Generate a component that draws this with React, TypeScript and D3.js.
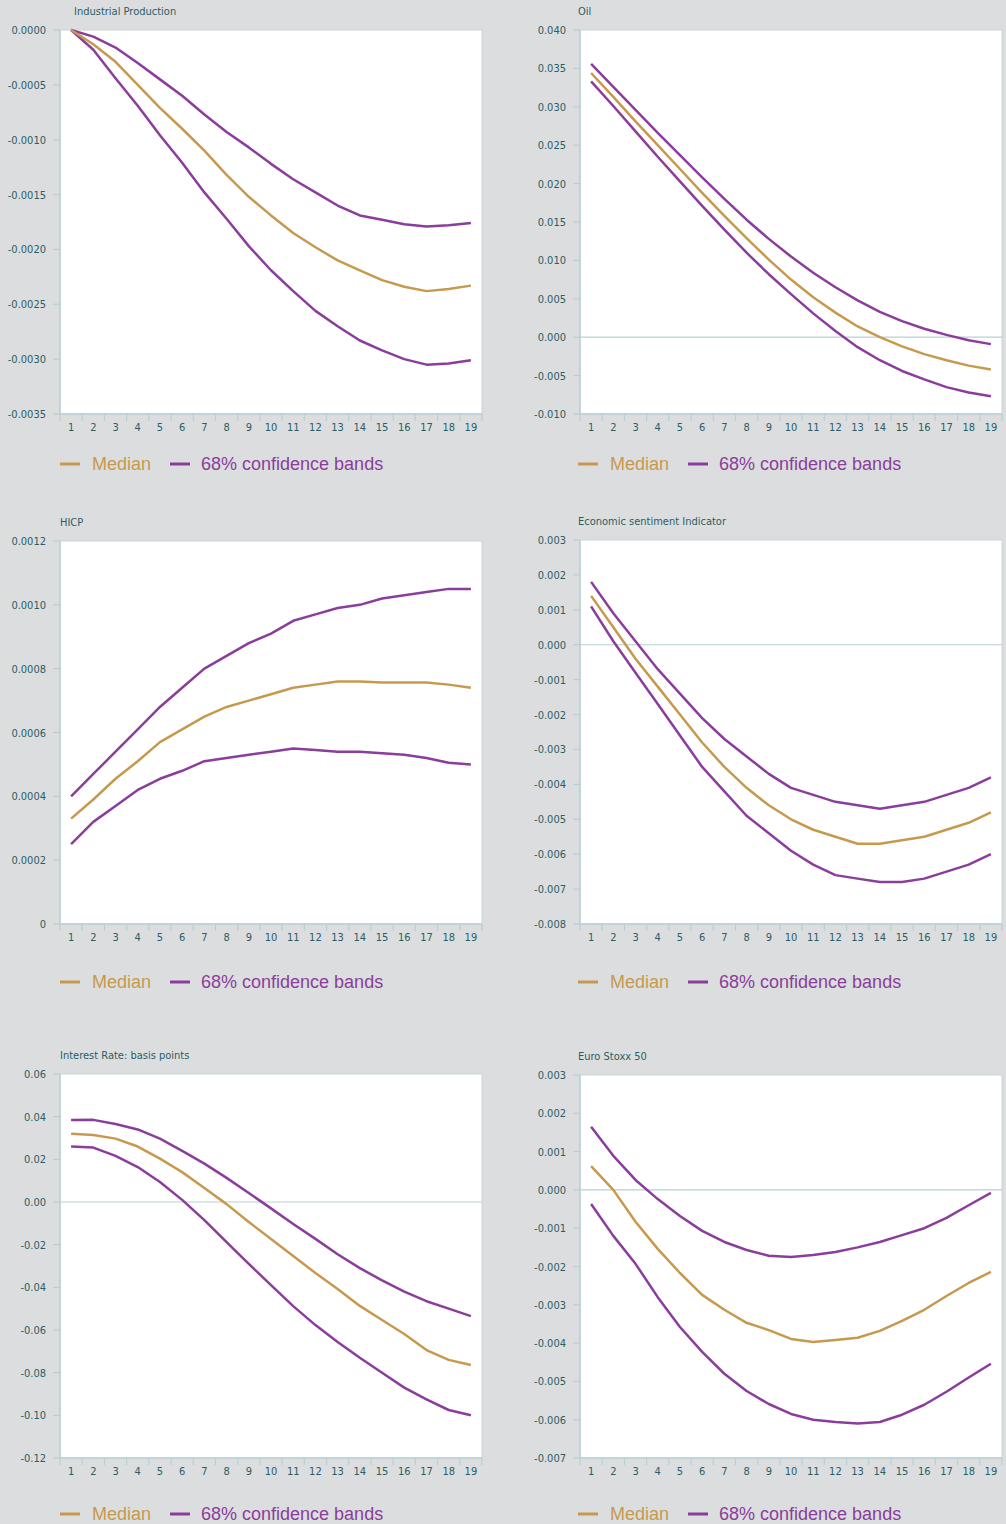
import React from 'react';
import * as d3 from 'd3';

// horizon 1..19
const periods = d3.range(1, 20);

// Industrial Production
const ipMedian = [0, -0.00013, -0.00029, -0.0005, -0.00071, -0.0009, -0.0011, -0.00132, -0.00152, -0.00169, -0.00185, -0.00198, -0.0021, -0.00219, -0.00228, -0.00234, -0.00238, -0.00236, -0.00233];
const ipUpper = [0, -0.00006, -0.00016, -0.0003, -0.00045, -0.0006, -0.00077, -0.00093, -0.00107, -0.00122, -0.00136, -0.00148, -0.0016, -0.00169, -0.00173, -0.00177, -0.00179, -0.00178, -0.00176];
const ipLower = [0, -0.00018, -0.00044, -0.00069, -0.00096, -0.00121, -0.00148, -0.00172, -0.00197, -0.00219, -0.00238, -0.00256, -0.0027, -0.00283, -0.00292, -0.003, -0.00305, -0.00304, -0.00301];

// Oil
const oilMedian = [0.0344, 0.0313, 0.0281, 0.025, 0.0219, 0.0188, 0.0158, 0.0129, 0.0101, 0.0075, 0.0052, 0.0032, 0.0014, 0.0, -0.0012, -0.0022, -0.003, -0.0037, -0.0042];
const oilUpper = [0.0356, 0.0326, 0.0296, 0.0266, 0.0237, 0.0208, 0.018, 0.0153, 0.0128, 0.0105, 0.0084, 0.0065, 0.0048, 0.0033, 0.0021, 0.0011, 0.0003, -0.0004, -0.0009];
const oilLower = [0.0333, 0.0301, 0.0268, 0.0235, 0.0203, 0.0171, 0.014, 0.011, 0.0082, 0.0056, 0.0031, 0.0008, -0.0013, -0.003, -0.0044, -0.0055, -0.0065, -0.0072, -0.0077];

// HICP
const hicpMedian = [0.00033, 0.00039, 0.000455, 0.00051, 0.00057, 0.00061, 0.00065, 0.00068, 0.0007, 0.00072, 0.00074, 0.00075, 0.00076, 0.00076, 0.000757, 0.000757, 0.000757, 0.00075, 0.00074];
const hicpUpper = [0.0004, 0.00047, 0.00054, 0.00061, 0.00068, 0.00074, 0.0008, 0.00084, 0.00088, 0.00091, 0.00095, 0.00097, 0.00099, 0.001, 0.00102, 0.00103, 0.00104, 0.00105, 0.00105];
const hicpLower = [0.00025, 0.00032, 0.00037, 0.00042, 0.000455, 0.00048, 0.00051, 0.00052, 0.00053, 0.00054, 0.00055, 0.000545, 0.00054, 0.00054, 0.000535, 0.00053, 0.00052, 0.000505, 0.0005];

// Economic sentiment Indicator
const esiMedian = [0.0014, 0.0005, -0.0004, -0.0012, -0.002, -0.0028, -0.0035, -0.0041, -0.0046, -0.005, -0.0053, -0.0055, -0.0057, -0.0057, -0.0056, -0.0055, -0.0053, -0.0051, -0.0048];
const esiUpper = [0.0018, 0.0009, 0.0001, -0.0007, -0.0014, -0.0021, -0.0027, -0.0032, -0.0037, -0.0041, -0.0043, -0.0045, -0.0046, -0.0047, -0.0046, -0.0045, -0.0043, -0.0041, -0.0038];
const esiLower = [0.0011, 0.0001, -0.0008, -0.0017, -0.0026, -0.0035, -0.0042, -0.0049, -0.0054, -0.0059, -0.0063, -0.0066, -0.0067, -0.0068, -0.0068, -0.0067, -0.0065, -0.0063, -0.006];

// Interest Rate
const irMedian = [0.032, 0.0314, 0.0297, 0.026, 0.0203, 0.014, 0.0066, -0.001, -0.0094, -0.0173, -0.0253, -0.0333, -0.0408, -0.0487, -0.0553, -0.0619, -0.0694, -0.074, -0.0764];
const irUpper = [0.0384, 0.0385, 0.0366, 0.034, 0.0297, 0.024, 0.018, 0.0113, 0.0042, -0.003, -0.0103, -0.0173, -0.0245, -0.031, -0.0367, -0.042, -0.0465, -0.05, -0.0535];
const irLower = [0.026, 0.0255, 0.0216, 0.0164, 0.0094, 0.001, -0.0085, -0.0188, -0.029, -0.039, -0.0488, -0.0577, -0.0656, -0.073, -0.08, -0.087, -0.0925, -0.0975, -0.1];

// Euro Stoxx 50
const sxMedian = [0.00062, 0.0, -0.00083, -0.00154, -0.00217, -0.00274, -0.00313, -0.00347, -0.00366, -0.00389, -0.00397, -0.00392, -0.00386, -0.00368, -0.00342, -0.00313, -0.00277, -0.00243, -0.00214];
const sxUpper = [0.00165, 0.00089, 0.00026, -0.00024, -0.00068, -0.00107, -0.00136, -0.00157, -0.00172, -0.00175, -0.0017, -0.00162, -0.0015, -0.00136, -0.00118, -0.001, -0.00073, -0.0004, -0.00008];
const sxLower = [-0.00037, -0.0012, -0.00193, -0.0028, -0.00358, -0.00423, -0.0048, -0.00525, -0.00559, -0.00585, -0.006, -0.00606, -0.0061, -0.00606, -0.00587, -0.00561, -0.00527, -0.0049, -0.00454];

const legendLabels = ['Median', '68% confidence bands'];

const BG = '#dcdddf';
const TEXT = '#2b5d64';
const AXIS = '#b9cfd3';
const GOLD = '#c69a4e';
const PURPLE = '#8b3d9b';
const NARROW = "'Liberation Sans Narrow', 'DejaVu Sans Condensed', sans-serif";
const LEGEND_FONT = "'Liberation Sans', Arial, sans-serif";

interface PanelProps {
  title: string;
  titleX: number;
  left: number;
  top: number;
  bottom: number;
  yMin: number;
  yMax: number;
  step: number;
  fmt: (v: number) => string;
  median: number[];
  upper: number[];
  lower: number[];
  legendX: number;
  legendY: number;
}

const Panel: React.FC<PanelProps> = ({ title, titleX, left, top, bottom, yMin, yMax, step, fmt, median, upper, lower, legendX, legendY }) => {
  const width = 422;
  const x = d3.scaleBand<number>().domain(periods).range([left, left + width]).paddingInner(0).paddingOuter(0);
  const y = d3.scaleLinear().domain([yMin, yMax]).range([bottom, top]);
  const n = Math.round((yMax - yMin) / step);
  const yTicks = d3.range(0, n + 1).map(i => yMin + i * step);
  const cx = (p: number) => (x(p) || 0) + x.bandwidth() / 2;
  const line = d3.line<number>().x((_, i) => cx(periods[i])).y(d => y(d)).curve(d3.curveLinear);
  const showZero = yMin < 0 && yMax > 0;
  const boundaries = periods.map(p => x(p) || 0).concat([left + width]);

  return (
    <g>
      <text x={titleX} y={top - 15} fontFamily={NARROW} fontSize={11} fill={TEXT}>{title}</text>
      <rect x={left} y={top} width={width} height={bottom - top} fill="#fff" stroke="#c8d5d8" strokeWidth={1} />
      {showZero && (
        <line x1={left} x2={left + width} y1={y(0)} y2={y(0)} stroke={AXIS} strokeWidth={1.2} />
      )}
      {/* y axis */}
      <line x1={left} x2={left} y1={top} y2={bottom} stroke={AXIS} strokeWidth={1.5} />
      {yTicks.map((t, i) => (
        <g key={i}>
          <line x1={left - 7} x2={left} y1={y(t)} y2={y(t)} stroke={AXIS} strokeWidth={1.2} />
          <text x={left - 14} y={y(t) + 4} textAnchor="end" fontFamily={NARROW} fontSize={11} fill={TEXT}>{fmt(t)}</text>
        </g>
      ))}
      {/* x axis */}
      <line x1={left} x2={left + width} y1={bottom} y2={bottom} stroke={AXIS} strokeWidth={1.5} />
      {boundaries.map((b, i) => (
        <line key={i} x1={b} x2={b} y1={bottom} y2={bottom + 7} stroke={AXIS} strokeWidth={1.2} />
      ))}
      {periods.map(p => (
        <text key={p} x={cx(p)} y={bottom + 17} textAnchor="middle" fontFamily={NARROW} fontSize={11} fill={TEXT}>{p}</text>
      ))}
      {/* series */}
      <path d={line(upper) || ''} fill="none" stroke={PURPLE} strokeWidth={2.5} strokeLinejoin="round" />
      <path d={line(lower) || ''} fill="none" stroke={PURPLE} strokeWidth={2.5} strokeLinejoin="round" />
      <path d={line(median) || ''} fill="none" stroke={GOLD} strokeWidth={2.5} strokeLinejoin="round" />
      {/* legend */}
      <line x1={legendX} x2={legendX + 20} y1={legendY} y2={legendY} stroke={GOLD} strokeWidth={3} />
      <text x={legendX + 32} y={legendY + 6} fontFamily={LEGEND_FONT} fontSize={18} fill={GOLD}>{legendLabels[0]}</text>
      <line x1={legendX + 110} x2={legendX + 130} y1={legendY} y2={legendY} stroke={PURPLE} strokeWidth={3} />
      <text x={legendX + 141} y={legendY + 6} fontFamily={LEGEND_FONT} fontSize={18} fill={PURPLE}>{legendLabels[1]}</text>
    </g>
  );
};

const f = (d: number) => (v: number) => (Math.abs(v) < 1e-12 ? (0).toFixed(d) : v.toFixed(d));

const App: React.FC = () => {
  return (
    <svg width={1006} height={1524} style={{ position: 'absolute', left: 0, top: 0, display: 'block' }}>
      <rect x={0} y={0} width={1006} height={1524} fill={BG} />
      <Panel title="Industrial Production" titleX={74} left={60} top={30} bottom={414} yMin={-0.0035} yMax={0} step={0.0005} fmt={f(4)} median={ipMedian} upper={ipUpper} lower={ipLower} legendX={60} legendY={464} />
      <Panel title="Oil" titleX={578} left={580} top={30} bottom={414} yMin={-0.01} yMax={0.04} step={0.005} fmt={f(3)} median={oilMedian} upper={oilUpper} lower={oilLower} legendX={578} legendY={464} />
      <Panel title="HICP" titleX={60} left={60} top={541} bottom={924} yMin={0} yMax={0.0012} step={0.0002} fmt={v => (Math.abs(v) < 1e-12 ? '0' : v.toFixed(4))} median={hicpMedian} upper={hicpUpper} lower={hicpLower} legendX={60} legendY={982} />
      <Panel title="Economic sentiment Indicator" titleX={578} left={580} top={540} bottom={924} yMin={-0.008} yMax={0.003} step={0.001} fmt={f(3)} median={esiMedian} upper={esiUpper} lower={esiLower} legendX={578} legendY={982} />
      <Panel title="Interest Rate: basis points" titleX={60} left={60} top={1074} bottom={1458} yMin={-0.12} yMax={0.06} step={0.02} fmt={f(2)} median={irMedian} upper={irUpper} lower={irLower} legendX={60} legendY={1514} />
      <Panel title="Euro Stoxx 50" titleX={578} left={580} top={1075} bottom={1458} yMin={-0.007} yMax={0.003} step={0.001} fmt={f(3)} median={sxMedian} upper={sxUpper} lower={sxLower} legendX={578} legendY={1514} />
    </svg>
  );
};

export default App;
